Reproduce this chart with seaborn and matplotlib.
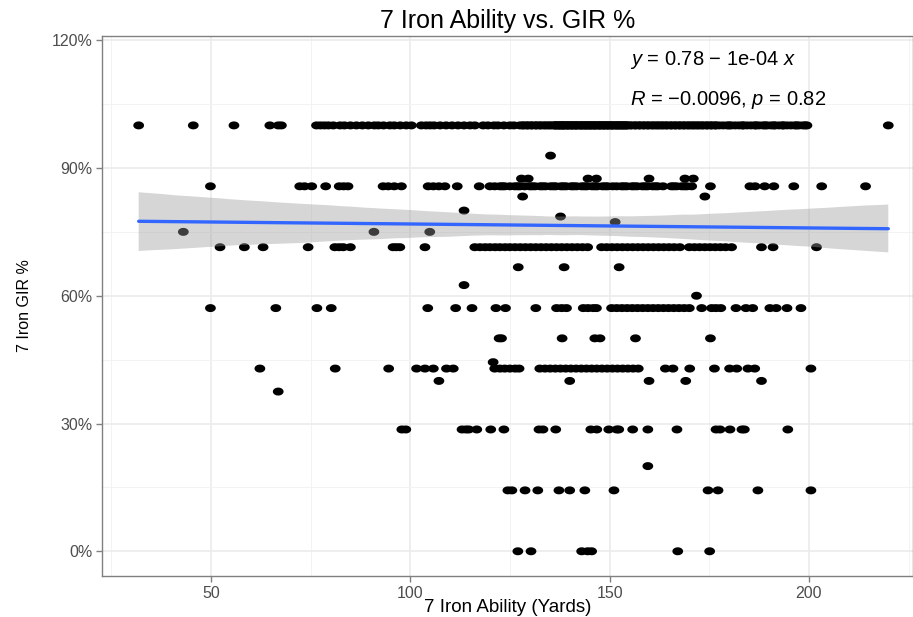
import numpy as np
import pandas as pd
import matplotlib
matplotlib.use("Agg")
import matplotlib.pyplot as plt
from matplotlib.ticker import PercentFormatter, MultipleLocator
import seaborn as sns

# ---- data: x values (yards) for each GIR level ----
x_100 = [31.9, 45.6, 55.8, 64.8, 66.9, 67.7, 76.5, 77.5, 78.5, 79.5, 80.7, 82.4, 83.5, 85.0,
         86.5, 88.0, 89.5, 91.0, 92.0, 93.3, 94.9, 96.0, 97.5, 99.0, 100.3, 102.8, 104.0,
         105.0, 106.0, 107.5, 109.0, 110.5, 112.0, 113.5, 115.0, 116.2, 118.3, 119.5, 121.0,
         122.0, 123.5, 125.0, 126.0, 127.5, 128.5, 129.5, 130.5, 131.5, 132.5, 133.5, 134.5,
         135.5, 136.5, 137.5, 138.5, 139.5, 140.5, 141.5, 142.5, 143.5, 144.5, 145.5, 146.5,
         147.5, 148.5, 149.5, 150.5, 151.5, 152.5, 153.5, 154.5, 155.5, 156.5, 157.5, 158.5,
         159.5, 160.5, 161.5, 162.5, 163.5, 164.5, 165.5, 166.5, 167.5, 168.5, 169.5, 170.5,
         171.5, 172.5, 173.5, 174.5, 175.5, 176.5, 177.5, 178.5, 179.5, 180.5, 181.5, 182.5,
         183.5, 184.5, 185.5, 186.5, 187.5, 188.5, 189.5, 190.5, 191.5, 192.5, 193.5, 194.5,
         195.5, 196.5, 197.5, 198.5, 199.5, 219.9]
# players hidden underneath the dense 100% band (overlapping markers)
x_100_stacked = [128.2, 129.3, 130.4, 131.6, 132.7, 133.9, 135.0, 136.1, 137.2, 138.4, 139.5,
                 140.6, 141.7, 142.9, 144.0, 145.1, 146.2, 147.4, 148.5, 149.6, 150.7, 151.9,
                 153.0, 154.1, 155.2, 156.4, 157.5, 158.6, 159.7, 160.9, 162.0, 163.1, 164.2,
                 165.4, 166.5, 167.6, 168.7, 169.9, 171.0, 172.1, 173.2, 174.4, 175.5, 176.6,
                 180.0, 183.4, 186.7, 189.0, 191.2, 193.5, 196.9, 199.1,
                 136.4, 136.8, 137.5, 137.9, 138.2, 138.7, 139.2, 139.8, 140.3, 140.9, 141.4,
                 141.9, 142.6, 143.1, 143.7, 144.2, 144.8, 145.3, 145.9, 146.4, 147.0, 147.6,
                 148.1, 148.7, 149.2, 149.8, 150.4, 150.9, 151.5, 152.1, 152.6, 153.2, 153.7,
                 154.3]
x_929 = [135.2]
x_875 = [127.9, 129.6, 144.6, 146.7, 159.9, 168.9, 171.0]
x_857 = [49.9, 72.3, 73.5, 75.3, 78.8, 82.2, 83.3, 84.4, 93.2, 94.5, 96.0, 97.8, 104.5, 105.8,
         107.2, 108.7, 111.8, 117.3, 120.0, 121.2, 122.5, 123.7, 125.0, 126.2, 127.5, 128.7,
         130.0, 131.3, 132.6, 133.9, 135.2, 136.5, 137.8, 139.1, 140.4, 141.7, 143.0, 144.3,
         145.6, 146.9, 148.2, 149.5, 150.8, 151.8, 153.0, 154.3, 155.6, 156.9, 158.2, 159.5,
         160.8, 162.1, 163.4, 165.5, 166.8, 168.1, 169.4, 170.6, 175.3, 185.2, 186.5, 188.9,
         191.2, 196.2, 203.2, 214.2]
x_857_stacked = [123.1, 126.9, 130.6, 133.2, 135.9, 138.4, 141.0, 143.7, 146.3, 148.9, 153.6,
                 156.2, 158.9, 161.5, 166.1, 168.8]
x_833 = [128.2, 173.9]
x_800 = [113.5]
x_786 = [137.7]
x_773 = [151.4]
x_750 = [43.1, 90.9, 104.9]
x_714 = [52.3, 58.4, 63.1, 74.4, 81.1, 82.2, 83.2, 85.0, 95.7, 96.5, 97.4, 103.7, 116.2, 117.5,
         118.8, 120.0, 121.3, 122.5, 123.8, 125.0, 126.3, 127.6, 128.9, 130.2, 131.5, 132.8,
         134.1, 135.4, 136.7, 138.0, 139.3, 140.6, 141.9, 143.2, 144.5, 148.0, 149.3, 150.6,
         151.9, 153.2, 154.5, 155.8, 157.1, 158.4, 159.7, 161.0, 162.3, 163.6, 164.9, 166.2,
         167.6, 170.0, 171.3, 172.6, 173.9, 175.2, 176.5, 177.8, 179.1, 180.6, 188.1, 191.0,
         201.9]
x_667 = [127.1, 138.6, 152.4]
x_625 = [113.5]
x_600 = [171.8]
x_571 = [49.9, 66.3, 76.6, 80.2, 104.4, 111.4, 115.5, 121.5, 123.9, 131.5, 136.7, 138.0, 139.2,
         143.4, 144.6, 145.9, 146.7, 150.5, 151.8, 153.1, 154.4, 155.7, 157.0, 158.3, 159.6,
         160.9, 162.2, 163.5, 164.8, 166.1, 167.4, 168.7, 170.0, 173.1, 175.6, 176.7, 177.9,
         181.7, 184.2, 185.9, 190.2, 191.8, 194.5, 198.0]
x_500 = [122.3, 122.9, 138.1, 146.3, 147.6, 156.5, 175.3]
x_444 = [120.8]
x_429 = [62.3, 81.2, 94.6, 101.6, 103.7, 105.8, 109.1, 110.8, 121.2, 122.5, 123.7, 125.0, 126.3,
         127.3, 132.5, 133.8, 135.1, 136.4, 137.7, 139.0, 140.3, 141.6, 142.9, 144.2, 145.5,
         146.8, 148.1, 149.4, 150.7, 152.0, 153.3, 154.6, 155.9, 157.2, 164.0, 165.9, 170.1,
         176.3, 180.1, 181.9, 184.7, 186.4, 200.5]
x_400 = [107.2, 140.0, 159.9, 169.1, 188.1]
x_375 = [66.9]
x_286 = [97.9, 98.9, 113.0, 114.0, 114.7, 116.7, 120.2, 123.5, 132.3, 133.3, 136.5, 145.3, 146.8,
         149.8, 151.8, 152.3, 155.8, 159.6, 166.9, 176.7, 177.7, 180.2, 183.2, 183.8, 194.7]
x_200 = [159.6]
x_143 = [124.5, 125.5, 128.8, 132.0, 137.3, 140.0, 143.8, 151.1, 174.7, 177.2, 187.2, 200.5]
x_000 = [127.0, 130.3, 143.0, 144.5, 145.5, 167.1, 175.1]

gir_levels = [1.0, 1.0, 0.929, 0.875, 0.857, 0.857, 0.833, 0.8, 0.786, 0.773, 0.75, 0.714,
              0.667, 0.625, 0.6, 0.571, 0.5, 0.444, 0.429, 0.4, 0.375, 0.286, 0.2, 0.143, 0.0]
x_groups = [x_100, x_100_stacked, x_929, x_875, x_857, x_857_stacked, x_833, x_800, x_786,
            x_773, x_750, x_714, x_667, x_625, x_600, x_571, x_500, x_444, x_429, x_400,
            x_375, x_286, x_200, x_143, x_000]

title = "7 Iron Ability vs. GIR %"
xlabel = "7 Iron Ability (Yards)"
ylabel = "7 Iron GIR %"
eq_text = r"$y$ = 0.78 $-$ 1e-04 $x$"
r_text = r"$R$ = $-$0.0096, $p$ = 0.82"

rows = []
for lvl, xs in zip(gir_levels, x_groups):
    for xv in xs:
        rows.append((xv, lvl))
df = pd.DataFrame(rows, columns=["ability", "gir"])

# ---- styling ----
sns.set_theme(style="white")
plt.rcParams["font.family"] = ["Liberation Sans", "DejaVu Sans"]
plt.rcParams["mathtext.fontset"] = "custom"
plt.rcParams["mathtext.rm"] = "Liberation Sans"
plt.rcParams["mathtext.it"] = "Liberation Sans:italic"

# slightly wide oval marker (the reference render is horizontally stretched)
_t = np.linspace(0, 2 * np.pi, 40)
oval = np.column_stack([1.35 * np.cos(_t), np.sin(_t)])

fig = plt.figure(figsize=(9.13, 6.17), dpi=100)
ax = fig.add_axes([0.1117, 0.0665, 0.8883, 0.8752])

sns.scatterplot(data=df, x="ability", y="gir", color="black", s=60, marker=oval,
                edgecolor="none", linewidth=0, ax=ax, zorder=2, legend=False)
n_before = len(ax.collections)
sns.regplot(data=df, x="ability", y="gir", scatter=False, ci=95, seed=1, n_boot=1000,
            color="#3366FF", line_kws={"lw": 2.4, "zorder": 4}, ax=ax)
for coll in ax.collections[n_before:]:
    coll.set_facecolor("#999999")
    coll.set_alpha(0.4)
    coll.set_edgecolor("none")
    coll.set_zorder(3)

ax.set_xlim(22.7, 226.1)
ax.set_ylim(-0.058, 1.21)
ax.xaxis.set_major_locator(MultipleLocator(50))
ax.xaxis.set_minor_locator(MultipleLocator(25))
ax.yaxis.set_major_locator(MultipleLocator(0.3))
ax.yaxis.set_minor_locator(MultipleLocator(0.15))
ax.yaxis.set_major_formatter(PercentFormatter(1.0, decimals=0))
ax.grid(True, which="major", color="#ebebeb", lw=1.2, zorder=0)
ax.grid(True, which="minor", color="#f3f3f3", lw=0.7, zorder=0)
ax.set_axisbelow(True)
for sp in ax.spines.values():
    sp.set_color("#808080")
    sp.set_linewidth(1.0)
ax.tick_params(which="major", length=4, width=1.0, color="#808080",
               labelcolor="#4d4d4d", labelsize=11.5, pad=3, bottom=True, left=True)
ax.tick_params(which="minor", length=0)

ax.set_title(title, fontsize=18, color="black", pad=6)
ax.set_xlabel(xlabel, fontsize=13.5, color="black", labelpad=-1)
ax.set_ylabel(ylabel, fontsize=11.5, color="black", labelpad=14)

ax.text(155.1, 1.153, eq_text, fontsize=14.5, ha="left", va="center", color="black")
ax.text(155.1, 1.059, r_text, fontsize=14.5, ha="left", va="center", color="black")

fig.savefig("out.png", dpi=100)
